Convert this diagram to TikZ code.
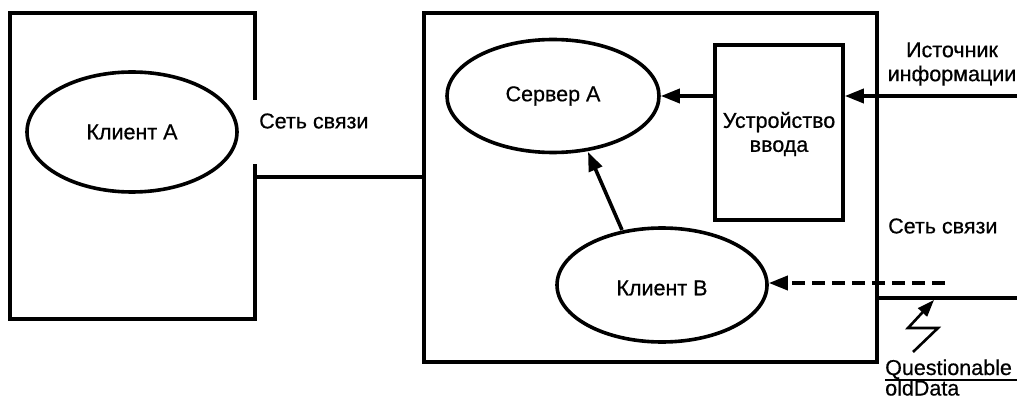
\documentclass[tikz,border=0pt]{standalone}
\usepackage{fontspec}
\setmainfont{Liberation Sans}
\newfontfamily\lbfont[FakeBold=0.6]{Liberation Sans}
\usetikzlibrary{shapes.geometric,arrows.meta}
\begin{document}
\begin{tikzpicture}[x=1pt,y=-1pt,
  thick line/.style={line width=3.6pt},
  oval/.style={ellipse,draw,line width=3.6pt,inner sep=0pt},
  lbl/.style={font=\lbfont\fontsize{21.5}{24}\selectfont,inner sep=0pt,align=center},
  bigtip/.style={-{Triangle[length=19pt,width=14pt]}},
  smalltip/.style={-{Triangle[length=17pt,width=12pt]}}]
\useasboundingbox (0,0) rectangle (1017,398);
\begin{scope}
\clip (0,0) rectangle (1017,398);
% left box (with a gap)
\coordinate (lt) at (255,98);
\coordinate (lb) at (255,166);
\coordinate (la) at (255,177);
\draw[thick line,line cap=rect] (lt) -- (255,13) -- (10,13) -- (10,319) -- (255,319) -- (lb);
\node[oval,minimum width=210pt,minimum height=120pt] (ca) at (132,132) {};
\node[lbl] at (ca) {Клиент А};
\node[lbl,anchor=west] (net1) at (259,121) {Сеть связи};
% right box
\node[draw,thick line,minimum width=453pt,minimum height=349pt,inner sep=0pt] (srv) at (650.5,187.5) {};
\draw[thick line] (la) -- (srv.west |- la);
\node[oval,minimum width=212pt,minimum height=113pt] (sa) at (553,96) {};
\node[lbl] at (sa) {Сервер А};
\node[draw,thick line,minimum width=128pt,minimum height=175pt,inner sep=0pt] (inp) at (779,132.5) {};
\node[lbl] at (779,134) {Устройство\\ввода};
\node[oval,minimum width=210pt,minimum height=114pt] (cb) at (662,285) {};
\node[lbl] at (662,288) {Клиент В};
% arrows
\draw[thick line,bigtip] (inp.west |- sa) -- (sa.east);
\coordinate (src) at (1017,96);
\draw[thick line,bigtip] (src) -- (inp.east |- src);
\draw[thick line,bigtip] (622,230) -- (588,152);
\coordinate (dstart) at (945,283);
\draw[thick line,bigtip,dash pattern=on 13pt off 7pt] (dstart) -- (cb.east |- dstart);
% right network
\coordinate (ne) at (1017,298);
\draw[thick line] (srv.east |- ne) -- (ne);
\node[lbl] (src lbl) at (952,64) {Источник\\информации};
\node[lbl,anchor=west] (net2) at (888,226) {Сеть связи};
% lightning
\coordinate (l0) at (913,352);
\coordinate (l3) at (934,300);
\draw[line width=2.6pt,smalltip] (l0) -- (938,328) -- (908,328) -- (l3);
\node[font=\lbfont\fontsize{21.5}{24}\selectfont,inner sep=0pt,anchor=base west] (q) at (885,375) {Questionable};
\draw[line width=2.2pt] (885,380) -- (1017,380);
\node[font=\lbfont\fontsize{21.5}{24}\selectfont,inner sep=0pt,anchor=base west] (od) at (885,395.5) {oldData};
\end{scope}
\end{tikzpicture}
\end{document}
